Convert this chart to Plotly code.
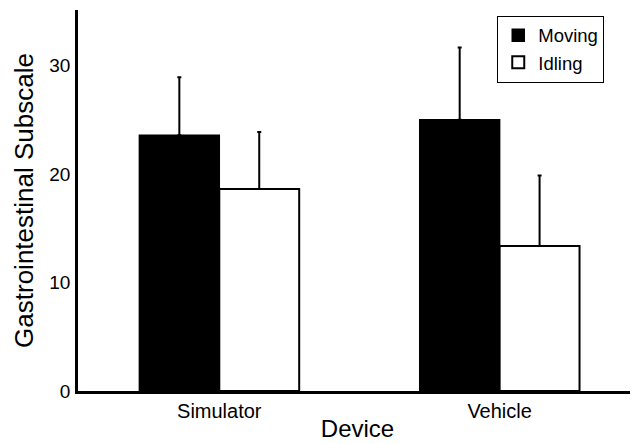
import plotly.graph_objects as go

devices = ["Simulator", "Vehicle"]
moving = [23.55, 25.0]
moving_err = [5.35, 6.65]
idling = [18.6, 13.35]
idling_err = [5.25, 6.5]

fig = go.Figure()
fig.add_trace(go.Bar(
    x=devices, y=moving, name="Moving",
    marker=dict(color="black", line=dict(color="black", width=1.5)),
    error_y=dict(type="data", array=moving_err, arrayminus=[0, 0], symmetric=False,
                 color="black", thickness=2, width=2),
))
fig.add_trace(go.Bar(
    x=devices, y=idling, name="Idling",
    marker=dict(color="white", line=dict(color="black", width=2)),
    error_y=dict(type="data", array=idling_err, arrayminus=[0, 0], symmetric=False,
                 color="black", thickness=2, width=2),
))

font = "Liberation Sans, Arial, sans-serif"
# page body has an 8px default margin, so the figure is offset by (8, 8)
fig.update_layout(
    width=630, height=435,
    margin=dict(l=70, r=1, t=2, b=52),
    paper_bgcolor="white", plot_bgcolor="white",
    barmode="group", bargap=0.43, bargroupgap=0,
    font=dict(family=font, color="black"),
    xaxis=dict(
        title=dict(text="Device", font=dict(size=24), standoff=0),
        range=[-0.504, 1.49], automargin=False,
        showline=True, linecolor="black", linewidth=2.5,
        ticks="", tickfont=dict(size=20), showgrid=False,
        ticklabelstandoff=0,
    ),
    yaxis=dict(
        title=dict(text="Gastrointestinal Subscale", font=dict(size=26), standoff=9),
        range=[0, 35.1], tickvals=[0, 10, 20, 30], automargin=False,
        showline=True, linecolor="black", linewidth=2.5,
        ticks="", tickfont=dict(size=19), showgrid=False, zeroline=False,
        ticklabelstandoff=1,
    ),
    legend=dict(
        x=0.75, y=0.985, xanchor="left", yanchor="top",
        bordercolor="black", borderwidth=1, bgcolor="white",
        font=dict(size=18.5), itemwidth=30, tracegroupgap=0,
    ),
)

fig.write_html("out.html")
